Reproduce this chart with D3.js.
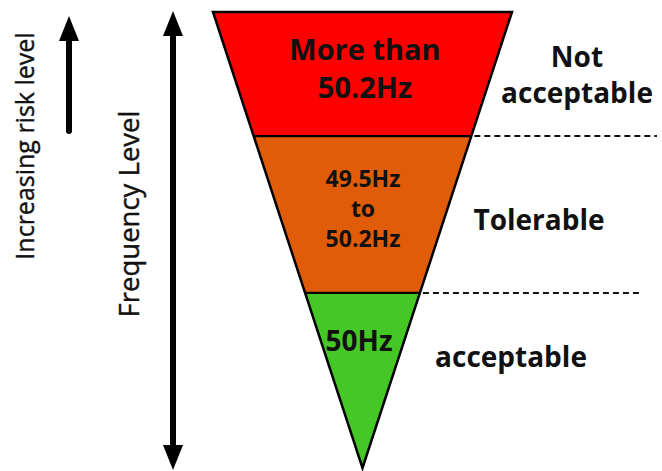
<!DOCTYPE html>
<html><head><meta charset="utf-8">
<script src="https://cdn.jsdelivr.net/npm/d3@7"></script>
<style>body{margin:0;background:#fff}svg{display:block}</style>
</head><body>
<svg id="c" width="662" height="471"></svg>
<script>
// Zones from top (highest risk) to bottom
const zoneNames = ["More than 50.2Hz", "49.5Hz to 50.2Hz", "50Hz"];
const zoneLines = [["More than", "50.2Hz"], ["49.5Hz", "to", "50.2Hz"], ["50Hz"]];
const zoneTop = [1.0, 0.728, 0.384];      // relative level (apex = 0, top = 1)
const zoneBottom = [0.728, 0.384, 0.0];
const zoneColors = ["#FE0000", "#E05C08", "#45C825"];
const riskLabels = [["Not", "acceptable"], ["Tolerable"], ["acceptable"]];
const axisTitles = ["Increasing risk level", "Frequency Level"];

const svg = d3.select("#c");
const cx = 362.5;
const y = d3.scaleLinear().domain([0, 1]).range([468, 12]);
const halfW = d3.scaleLinear().domain([0, 1]).range([0, 149.5]);

const font = "'Open Sans', 'Noto Sans', sans-serif";

// zones
zoneNames.forEach((n, i) => {
  const t = zoneTop[i], b = zoneBottom[i];
  const pts = [[cx - halfW(t), y(t)], [cx + halfW(t), y(t)], [cx + halfW(b), y(b)], [cx - halfW(b), y(b)]];
  svg.append("path").attr("d", d3.line()(pts) + "Z")
    .attr("fill", zoneColors[i]).attr("stroke", "none");
});
// boundary lines inside triangle
zoneBottom.slice(0, 2).forEach(v => {
  svg.append("line").attr("x1", cx - halfW(v)).attr("x2", cx + halfW(v))
    .attr("y1", y(v)).attr("y2", y(v)).attr("stroke", "#000").attr("stroke-width", 2.2);
});
// triangle outline
svg.append("path").attr("d", d3.line()([[cx - halfW(1), y(1)], [cx + halfW(1), y(1)], [cx, y(0)]]) + "Z")
  .attr("fill", "none").attr("stroke", "#000").attr("stroke-width", 2.5).attr("stroke-linejoin", "miter");

// dashed lines
const dashEnds = [657, 640];
zoneBottom.slice(0, 2).forEach((v, i) => {
  svg.append("line").attr("x1", cx + halfW(v) + 3).attr("x2", dashEnds[i])
    .attr("y1", y(v)).attr("y2", y(v)).attr("stroke", "#111").attr("stroke-width", 2)
    .attr("stroke-dasharray", "6,4");
});

// zone texts
const zoneText = [
  {x: 365, ys: [60, 98], size: 29},
  {x: 363, ys: [187, 217, 247], size: 23},
  {x: 359, ys: [351], size: 28}
];
zoneLines.forEach((lines, i) => {
  lines.forEach((l, j) => {
    svg.append("text").attr("x", zoneText[i].x).attr("y", zoneText[i].ys[j])
      .attr("text-anchor", "middle").attr("font-family", font).attr("font-weight", "bold")
      .attr("font-size", zoneText[i].size).attr("fill", "#111").text(l);
  });
});

// risk labels
const riskPos = [{x: 577, ys: [67, 103]}, {x: 539, ys: [230]}, {x: 511, ys: [367]}];
riskLabels.forEach((lines, i) => {
  lines.forEach((l, j) => {
    svg.append("text").attr("x", riskPos[i].x).attr("y", riskPos[i].ys[j])
      .attr("text-anchor", "middle").attr("font-family", font).attr("font-weight", "bold")
      .attr("font-size", 28).attr("fill", "#111").text(l);
  });
});

// axis titles (rotated)
svg.append("text").attr("transform", "translate(34,146) rotate(-90)")
  .attr("text-anchor", "middle").attr("font-family", font).attr("font-size", 25)
  .attr("fill", "#111").attr("stroke", "#111").attr("stroke-width", 0.4).text(axisTitles[0]);
svg.append("text").attr("transform", "translate(139,214) rotate(-90)")
  .attr("text-anchor", "middle").attr("font-family", font).attr("font-size", 27.5)
  .attr("fill", "#111").attr("stroke", "#111").attr("stroke-width", 0.4).text(axisTitles[1]);

// arrows
function head(x, tipY, dir) { // dir -1 up, +1 down
  const L = 25, W = 10;
  return d3.line()([[x, tipY], [x + W, tipY - dir * L], [x - W, tipY - dir * L]]) + "Z";
}
// small up arrow
svg.append("line").attr("x1", 69).attr("x2", 69).attr("y1", 40).attr("y2", 131)
  .attr("stroke", "#000").attr("stroke-width", 6).attr("stroke-linecap", "round");
svg.append("path").attr("d", head(69, 16, -1)).attr("fill", "#000");
// double arrow
svg.append("line").attr("x1", 173).attr("x2", 173).attr("y1", 30).attr("y2", 450)
  .attr("stroke", "#000").attr("stroke-width", 6);
svg.append("path").attr("d", head(173, 11, -1)).attr("fill", "#000");
svg.append("path").attr("d", head(173, 470, 1)).attr("fill", "#000");
</script>
</body></html>
